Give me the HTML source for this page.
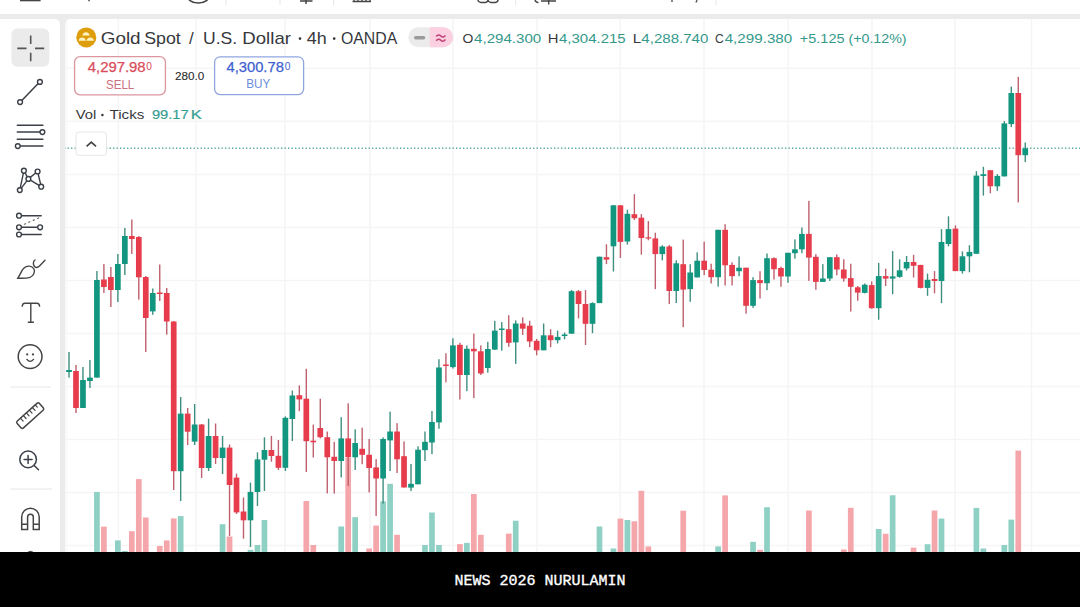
<!DOCTYPE html>
<html><head><meta charset="utf-8">
<style>
html,body{margin:0;padding:0;}
body{width:1080px;height:607px;overflow:hidden;position:relative;background:#ebebeb;font-family:"Liberation Sans",sans-serif;}
.abs{position:absolute;}
#top{left:0;top:0;width:1080px;height:14px;background:#fff;}
#left{left:0;top:19px;width:60px;height:533px;background:#fff;border-top-right-radius:5px;}
#chart{left:65px;top:19px;width:1015px;height:533px;background:linear-gradient(90deg,#f7f7f7 0,#fff 4px);border-top-left-radius:5px;}
#foot{left:0;top:552px;width:1080px;height:55px;background:#000;}
#foottxt{left:0;top:572px;width:1080px;text-align:center;color:#fff;font-family:"Liberation Mono",monospace;font-weight:normal;font-size:15px;line-height:20px;-webkit-text-stroke:0.35px #fff;}
svg.full{position:absolute;left:0;top:0;}
</style></head><body>
<div id="top" class="abs"></div>
<div id="left" class="abs"></div>
<div id="chart" class="abs"></div>
<svg class="full" width="1080" height="607" viewBox="0 0 1080 607">
<defs><clipPath id="cc"><rect x="65" y="19" width="1015" height="533" rx="5"/></clipPath></defs>
<g clip-path="url(#cc)">
<line x1="64" y1="68.3" x2="1080" y2="68.3" stroke="#f5f5f6" stroke-width="1.5"/>
<line x1="64" y1="121.3" x2="1080" y2="121.3" stroke="#f5f5f6" stroke-width="1.5"/>
<line x1="64" y1="174.4" x2="1080" y2="174.4" stroke="#f5f5f6" stroke-width="1.5"/>
<line x1="64" y1="227.4" x2="1080" y2="227.4" stroke="#f5f5f6" stroke-width="1.5"/>
<line x1="64" y1="280.4" x2="1080" y2="280.4" stroke="#f5f5f6" stroke-width="1.5"/>
<line x1="64" y1="333.4" x2="1080" y2="333.4" stroke="#f5f5f6" stroke-width="1.5"/>
<line x1="64" y1="386.5" x2="1080" y2="386.5" stroke="#f5f5f6" stroke-width="1.5"/>
<line x1="64" y1="439.5" x2="1080" y2="439.5" stroke="#f5f5f6" stroke-width="1.5"/>
<line x1="64" y1="492.5" x2="1080" y2="492.5" stroke="#f5f5f6" stroke-width="1.5"/>
<line x1="64" y1="545.6" x2="1080" y2="545.6" stroke="#f5f5f6" stroke-width="1.5"/>
<line x1="118.4" y1="19" x2="118.4" y2="552" stroke="#f5f5f6" stroke-width="1.5"/>
<line x1="196" y1="19" x2="196" y2="552" stroke="#f5f5f6" stroke-width="1.5"/>
<line x1="285" y1="19" x2="285" y2="552" stroke="#f5f5f6" stroke-width="1.5"/>
<line x1="370" y1="19" x2="370" y2="552" stroke="#f5f5f6" stroke-width="1.5"/>
<line x1="453" y1="19" x2="453" y2="552" stroke="#f5f5f6" stroke-width="1.5"/>
<line x1="537" y1="19" x2="537" y2="552" stroke="#f5f5f6" stroke-width="1.5"/>
<line x1="620.3" y1="19" x2="620.3" y2="552" stroke="#f5f5f6" stroke-width="1.5"/>
<line x1="704" y1="19" x2="704" y2="552" stroke="#f5f5f6" stroke-width="1.5"/>
<line x1="788.3" y1="19" x2="788.3" y2="552" stroke="#f5f5f6" stroke-width="1.5"/>
<line x1="872" y1="19" x2="872" y2="552" stroke="#f5f5f6" stroke-width="1.5"/>
<line x1="955" y1="19" x2="955" y2="552" stroke="#f5f5f6" stroke-width="1.5"/>
<line x1="1031.5" y1="19" x2="1031.5" y2="552" stroke="#f5f5f6" stroke-width="1.5"/>
<rect x="94.07" y="492.0" width="5.7" height="60.0" fill="#8fd0c5"/>
<rect x="101.05" y="526.6" width="5.7" height="25.4" fill="#f5a6ab"/>
<rect x="115.01" y="540.4" width="5.7" height="11.6" fill="#8fd0c5"/>
<rect x="121.99" y="551.0" width="5.7" height="1.0" fill="#8fd0c5"/>
<rect x="128.97" y="531.2" width="5.7" height="20.8" fill="#f5a6ab"/>
<rect x="135.95" y="479.1" width="5.7" height="72.9" fill="#f5a6ab"/>
<rect x="142.93" y="517.5" width="5.7" height="34.5" fill="#f5a6ab"/>
<rect x="156.89" y="546.0" width="5.7" height="6.0" fill="#f5a6ab"/>
<rect x="163.87" y="540.4" width="5.7" height="11.6" fill="#f5a6ab"/>
<rect x="170.85" y="518.4" width="5.7" height="33.6" fill="#f5a6ab"/>
<rect x="177.83" y="516.1" width="5.7" height="35.9" fill="#8fd0c5"/>
<rect x="219.71" y="524.2" width="5.7" height="27.8" fill="#8fd0c5"/>
<rect x="226.69" y="536.5" width="5.7" height="15.5" fill="#f5a6ab"/>
<rect x="247.63" y="549.9" width="5.7" height="2.1" fill="#8fd0c5"/>
<rect x="254.61" y="545.0" width="5.7" height="7.0" fill="#8fd0c5"/>
<rect x="261.59" y="520.0" width="5.7" height="32.0" fill="#8fd0c5"/>
<rect x="303.47" y="501.0" width="5.7" height="51.0" fill="#f5a6ab"/>
<rect x="310.45" y="545.0" width="5.7" height="7.0" fill="#f5a6ab"/>
<rect x="338.37" y="526.5" width="5.7" height="25.5" fill="#8fd0c5"/>
<rect x="345.35" y="457.9" width="5.7" height="94.1" fill="#f5a6ab"/>
<rect x="352.33" y="517.2" width="5.7" height="34.8" fill="#8fd0c5"/>
<rect x="366.29" y="548.5" width="5.7" height="3.5" fill="#f5a6ab"/>
<rect x="373.27" y="525.6" width="5.7" height="26.4" fill="#f5a6ab"/>
<rect x="380.25" y="501.4" width="5.7" height="50.6" fill="#8fd0c5"/>
<rect x="387.23" y="483.8" width="5.7" height="68.2" fill="#8fd0c5"/>
<rect x="394.21" y="534.8" width="5.7" height="17.2" fill="#f5a6ab"/>
<rect x="422.13" y="545.0" width="5.7" height="7.0" fill="#8fd0c5"/>
<rect x="429.11" y="512.5" width="5.7" height="39.5" fill="#8fd0c5"/>
<rect x="436.09" y="545.0" width="5.7" height="7.0" fill="#8fd0c5"/>
<rect x="457.03" y="544.1" width="5.7" height="7.9" fill="#f5a6ab"/>
<rect x="464.01" y="542.9" width="5.7" height="9.1" fill="#8fd0c5"/>
<rect x="470.99" y="494.0" width="5.7" height="58.0" fill="#f5a6ab"/>
<rect x="477.97" y="534.8" width="5.7" height="17.2" fill="#f5a6ab"/>
<rect x="505.89" y="533.6" width="5.7" height="18.4" fill="#f5a6ab"/>
<rect x="512.87" y="520.7" width="5.7" height="31.3" fill="#8fd0c5"/>
<rect x="596.63" y="526.5" width="5.7" height="25.5" fill="#8fd0c5"/>
<rect x="610.59" y="548.5" width="5.7" height="3.5" fill="#8fd0c5"/>
<rect x="617.57" y="518.6" width="5.7" height="33.4" fill="#f5a6ab"/>
<rect x="624.55" y="520.0" width="5.7" height="32.0" fill="#8fd0c5"/>
<rect x="631.53" y="521.3" width="5.7" height="30.7" fill="#f5a6ab"/>
<rect x="638.51" y="490.8" width="5.7" height="61.2" fill="#f5a6ab"/>
<rect x="645.49" y="546.4" width="5.7" height="5.6" fill="#f5a6ab"/>
<rect x="680.39" y="510.7" width="5.7" height="41.3" fill="#f5a6ab"/>
<rect x="715.29" y="546.4" width="5.7" height="5.6" fill="#8fd0c5"/>
<rect x="722.27" y="495.4" width="5.7" height="56.6" fill="#f5a6ab"/>
<rect x="750.19" y="541.8" width="5.7" height="10.2" fill="#8fd0c5"/>
<rect x="757.17" y="549.8" width="5.7" height="2.2" fill="#f5a6ab"/>
<rect x="764.15" y="507.2" width="5.7" height="44.8" fill="#8fd0c5"/>
<rect x="806.03" y="510.5" width="5.7" height="41.5" fill="#f5a6ab"/>
<rect x="840.93" y="549.5" width="5.7" height="2.5" fill="#f5a6ab"/>
<rect x="847.91" y="507.8" width="5.7" height="44.2" fill="#f5a6ab"/>
<rect x="875.83" y="529.0" width="5.7" height="23.0" fill="#8fd0c5"/>
<rect x="882.81" y="533.8" width="5.7" height="18.2" fill="#f5a6ab"/>
<rect x="889.79" y="495.3" width="5.7" height="56.7" fill="#8fd0c5"/>
<rect x="910.73" y="547.6" width="5.7" height="4.4" fill="#f5a6ab"/>
<rect x="924.69" y="544.2" width="5.7" height="7.8" fill="#8fd0c5"/>
<rect x="931.67" y="510.5" width="5.7" height="41.5" fill="#f5a6ab"/>
<rect x="938.65" y="518.6" width="5.7" height="33.4" fill="#8fd0c5"/>
<rect x="973.55" y="507.9" width="5.7" height="44.1" fill="#8fd0c5"/>
<rect x="980.53" y="548.5" width="5.7" height="3.5" fill="#8fd0c5"/>
<rect x="1001.47" y="545.0" width="5.7" height="7.0" fill="#8fd0c5"/>
<rect x="1008.45" y="519.6" width="5.7" height="32.4" fill="#8fd0c5"/>
<rect x="1015.43" y="450.6" width="5.7" height="101.4" fill="#f5a6ab"/>
<line x1="64" y1="148.3" x2="1080" y2="148.3" stroke="#5fada0" stroke-width="1.4" stroke-dasharray="1.4 2.1"/>
<rect x="68.30" y="352.0" width="1.4" height="25.6" fill="#3f8f80"/>
<rect x="66.15" y="370.0" width="5.7" height="2.0" fill="#13967f"/>
<rect x="75.28" y="365.0" width="1.4" height="48.0" fill="#c0606e"/>
<rect x="73.13" y="371.0" width="5.7" height="37.0" fill="#e73c4c"/>
<rect x="82.26" y="367.0" width="1.4" height="41.0" fill="#3f8f80"/>
<rect x="80.11" y="380.0" width="5.7" height="28.0" fill="#13967f"/>
<rect x="89.24" y="360.0" width="1.4" height="28.0" fill="#3f8f80"/>
<rect x="87.09" y="377.6" width="5.7" height="3.4" fill="#13967f"/>
<rect x="96.22" y="271.0" width="1.4" height="106.6" fill="#3f8f80"/>
<rect x="94.07" y="280.0" width="5.7" height="97.6" fill="#13967f"/>
<rect x="103.20" y="264.0" width="1.4" height="29.0" fill="#c0606e"/>
<rect x="101.05" y="279.5" width="5.7" height="7.5" fill="#e73c4c"/>
<rect x="110.18" y="267.0" width="1.4" height="40.0" fill="#c0606e"/>
<rect x="108.03" y="277.0" width="5.7" height="13.0" fill="#e73c4c"/>
<rect x="117.16" y="254.0" width="1.4" height="48.0" fill="#3f8f80"/>
<rect x="115.01" y="264.0" width="5.7" height="26.0" fill="#13967f"/>
<rect x="124.14" y="228.0" width="1.4" height="47.0" fill="#3f8f80"/>
<rect x="121.99" y="236.0" width="5.7" height="28.0" fill="#13967f"/>
<rect x="131.12" y="219.5" width="1.4" height="34.5" fill="#c0606e"/>
<rect x="128.97" y="236.0" width="5.7" height="3.0" fill="#e73c4c"/>
<rect x="138.10" y="236.0" width="1.4" height="63.6" fill="#c0606e"/>
<rect x="135.95" y="237.0" width="5.7" height="40.3" fill="#e73c4c"/>
<rect x="145.08" y="276.0" width="1.4" height="76.0" fill="#c0606e"/>
<rect x="142.93" y="277.0" width="5.7" height="41.0" fill="#e73c4c"/>
<rect x="152.06" y="288.5" width="1.4" height="26.3" fill="#3f8f80"/>
<rect x="149.91" y="293.0" width="5.7" height="18.4" fill="#13967f"/>
<rect x="159.04" y="264.5" width="1.4" height="36.5" fill="#c0606e"/>
<rect x="156.89" y="292.5" width="5.7" height="1.5" fill="#e73c4c"/>
<rect x="166.02" y="288.0" width="1.4" height="46.6" fill="#c0606e"/>
<rect x="163.87" y="293.0" width="5.7" height="28.5" fill="#e73c4c"/>
<rect x="173.00" y="321.0" width="1.4" height="169.0" fill="#c0606e"/>
<rect x="170.85" y="321.5" width="5.7" height="149.7" fill="#e73c4c"/>
<rect x="179.98" y="397.0" width="1.4" height="104.0" fill="#3f8f80"/>
<rect x="177.83" y="413.6" width="5.7" height="57.6" fill="#13967f"/>
<rect x="186.96" y="408.0" width="1.4" height="37.0" fill="#c0606e"/>
<rect x="184.81" y="413.6" width="5.7" height="18.1" fill="#e73c4c"/>
<rect x="193.94" y="404.0" width="1.4" height="41.0" fill="#3f8f80"/>
<rect x="191.79" y="424.5" width="5.7" height="17.1" fill="#13967f"/>
<rect x="200.92" y="424.0" width="1.4" height="54.0" fill="#c0606e"/>
<rect x="198.77" y="424.5" width="5.7" height="43.5" fill="#e73c4c"/>
<rect x="207.90" y="418.6" width="1.4" height="52.4" fill="#3f8f80"/>
<rect x="205.75" y="436.0" width="5.7" height="32.0" fill="#13967f"/>
<rect x="214.88" y="423.5" width="1.4" height="40.5" fill="#c0606e"/>
<rect x="212.73" y="436.0" width="5.7" height="22.0" fill="#e73c4c"/>
<rect x="221.86" y="436.0" width="1.4" height="38.0" fill="#3f8f80"/>
<rect x="219.71" y="447.6" width="5.7" height="10.4" fill="#13967f"/>
<rect x="228.84" y="444.5" width="1.4" height="91.5" fill="#c0606e"/>
<rect x="226.69" y="447.6" width="5.7" height="37.4" fill="#e73c4c"/>
<rect x="235.82" y="473.6" width="1.4" height="40.4" fill="#c0606e"/>
<rect x="233.67" y="477.6" width="5.7" height="34.8" fill="#e73c4c"/>
<rect x="242.80" y="497.5" width="1.4" height="41.2" fill="#c0606e"/>
<rect x="240.65" y="511.5" width="5.7" height="8.8" fill="#e73c4c"/>
<rect x="249.78" y="482.6" width="1.4" height="64.4" fill="#3f8f80"/>
<rect x="247.63" y="491.9" width="5.7" height="28.4" fill="#13967f"/>
<rect x="256.76" y="452.4" width="1.4" height="53.6" fill="#3f8f80"/>
<rect x="254.61" y="459.4" width="5.7" height="32.6" fill="#13967f"/>
<rect x="263.74" y="437.3" width="1.4" height="53.7" fill="#3f8f80"/>
<rect x="261.59" y="450.0" width="5.7" height="9.7" fill="#13967f"/>
<rect x="270.72" y="436.0" width="1.4" height="25.7" fill="#c0606e"/>
<rect x="268.57" y="450.0" width="5.7" height="6.0" fill="#e73c4c"/>
<rect x="277.70" y="440.0" width="1.4" height="30.0" fill="#c0606e"/>
<rect x="275.55" y="455.8" width="5.7" height="12.0" fill="#e73c4c"/>
<rect x="284.68" y="416.4" width="1.4" height="54.6" fill="#3f8f80"/>
<rect x="282.53" y="417.8" width="5.7" height="50.0" fill="#13967f"/>
<rect x="291.66" y="390.6" width="1.4" height="50.4" fill="#3f8f80"/>
<rect x="289.51" y="395.5" width="5.7" height="23.5" fill="#13967f"/>
<rect x="298.64" y="385.4" width="1.4" height="25.8" fill="#c0606e"/>
<rect x="296.49" y="395.2" width="5.7" height="4.2" fill="#e73c4c"/>
<rect x="305.62" y="368.8" width="1.4" height="103.2" fill="#c0606e"/>
<rect x="303.47" y="398.7" width="5.7" height="42.5" fill="#e73c4c"/>
<rect x="312.60" y="424.6" width="1.4" height="32.9" fill="#c0606e"/>
<rect x="310.45" y="440.7" width="5.7" height="1.6" fill="#e73c4c"/>
<rect x="319.58" y="398.7" width="1.4" height="39.7" fill="#c0606e"/>
<rect x="317.43" y="428.0" width="5.7" height="9.2" fill="#e73c4c"/>
<rect x="326.56" y="431.5" width="1.4" height="61.9" fill="#c0606e"/>
<rect x="324.41" y="437.2" width="5.7" height="20.1" fill="#e73c4c"/>
<rect x="333.54" y="441.8" width="1.4" height="51.8" fill="#c0606e"/>
<rect x="331.39" y="456.8" width="5.7" height="4.2" fill="#e73c4c"/>
<rect x="340.52" y="417.2" width="1.4" height="60.3" fill="#3f8f80"/>
<rect x="338.37" y="438.4" width="5.7" height="22.6" fill="#13967f"/>
<rect x="347.50" y="403.3" width="1.4" height="82.7" fill="#c0606e"/>
<rect x="345.35" y="438.4" width="5.7" height="18.9" fill="#e73c4c"/>
<rect x="354.48" y="429.3" width="1.4" height="40.7" fill="#3f8f80"/>
<rect x="352.33" y="443.0" width="5.7" height="14.3" fill="#13967f"/>
<rect x="361.46" y="427.7" width="1.4" height="36.5" fill="#c0606e"/>
<rect x="359.31" y="448.8" width="5.7" height="6.0" fill="#e73c4c"/>
<rect x="368.44" y="439.0" width="1.4" height="53.5" fill="#c0606e"/>
<rect x="366.29" y="454.8" width="5.7" height="13.2" fill="#e73c4c"/>
<rect x="375.42" y="459.1" width="1.4" height="56.9" fill="#c0606e"/>
<rect x="373.27" y="467.4" width="5.7" height="11.1" fill="#e73c4c"/>
<rect x="382.40" y="437.4" width="1.4" height="66.3" fill="#3f8f80"/>
<rect x="380.25" y="439.0" width="5.7" height="39.5" fill="#13967f"/>
<rect x="389.38" y="411.7" width="1.4" height="59.3" fill="#3f8f80"/>
<rect x="387.23" y="431.5" width="5.7" height="8.9" fill="#13967f"/>
<rect x="396.36" y="423.2" width="1.4" height="49.8" fill="#c0606e"/>
<rect x="394.21" y="431.5" width="5.7" height="27.8" fill="#e73c4c"/>
<rect x="403.34" y="441.4" width="1.4" height="46.1" fill="#c0606e"/>
<rect x="401.19" y="456.2" width="5.7" height="31.3" fill="#e73c4c"/>
<rect x="410.32" y="464.0" width="1.4" height="27.0" fill="#3f8f80"/>
<rect x="408.17" y="483.8" width="5.7" height="3.8" fill="#13967f"/>
<rect x="417.30" y="446.3" width="1.4" height="38.0" fill="#3f8f80"/>
<rect x="415.15" y="449.7" width="5.7" height="34.6" fill="#13967f"/>
<rect x="424.28" y="431.5" width="1.4" height="29.5" fill="#3f8f80"/>
<rect x="422.13" y="441.8" width="5.7" height="8.4" fill="#13967f"/>
<rect x="431.26" y="411.0" width="1.4" height="43.2" fill="#3f8f80"/>
<rect x="429.11" y="422.0" width="5.7" height="20.5" fill="#13967f"/>
<rect x="438.24" y="359.2" width="1.4" height="69.6" fill="#3f8f80"/>
<rect x="436.09" y="367.5" width="5.7" height="54.9" fill="#13967f"/>
<rect x="445.22" y="353.3" width="1.4" height="29.0" fill="#c0606e"/>
<rect x="443.07" y="364.5" width="5.7" height="1.5" fill="#e73c4c"/>
<rect x="452.20" y="338.3" width="1.4" height="30.2" fill="#3f8f80"/>
<rect x="450.05" y="345.4" width="5.7" height="21.7" fill="#13967f"/>
<rect x="459.18" y="342.8" width="1.4" height="56.7" fill="#c0606e"/>
<rect x="457.03" y="344.8" width="5.7" height="30.2" fill="#e73c4c"/>
<rect x="466.16" y="345.4" width="1.4" height="45.8" fill="#3f8f80"/>
<rect x="464.01" y="348.8" width="5.7" height="26.2" fill="#13967f"/>
<rect x="473.14" y="333.6" width="1.4" height="64.5" fill="#c0606e"/>
<rect x="470.99" y="348.8" width="5.7" height="2.5" fill="#e73c4c"/>
<rect x="480.12" y="345.4" width="1.4" height="29.6" fill="#c0606e"/>
<rect x="477.97" y="351.3" width="5.7" height="22.2" fill="#e73c4c"/>
<rect x="487.10" y="341.8" width="1.4" height="30.9" fill="#3f8f80"/>
<rect x="484.95" y="349.0" width="5.7" height="19.0" fill="#13967f"/>
<rect x="494.08" y="320.8" width="1.4" height="29.2" fill="#3f8f80"/>
<rect x="491.93" y="330.6" width="5.7" height="19.0" fill="#13967f"/>
<rect x="501.06" y="322.1" width="1.4" height="28.6" fill="#3f8f80"/>
<rect x="498.91" y="328.5" width="5.7" height="1.5" fill="#13967f"/>
<rect x="508.04" y="315.2" width="1.4" height="31.6" fill="#c0606e"/>
<rect x="505.89" y="329.2" width="5.7" height="13.6" fill="#e73c4c"/>
<rect x="515.02" y="320.4" width="1.4" height="43.5" fill="#3f8f80"/>
<rect x="512.87" y="323.5" width="5.7" height="18.9" fill="#13967f"/>
<rect x="522.00" y="317.4" width="1.4" height="17.5" fill="#c0606e"/>
<rect x="519.85" y="323.5" width="5.7" height="5.2" fill="#e73c4c"/>
<rect x="528.98" y="320.8" width="1.4" height="26.4" fill="#c0606e"/>
<rect x="526.83" y="325.7" width="5.7" height="15.8" fill="#e73c4c"/>
<rect x="535.96" y="338.9" width="1.4" height="16.4" fill="#c0606e"/>
<rect x="533.81" y="340.8" width="5.7" height="9.5" fill="#e73c4c"/>
<rect x="542.94" y="323.5" width="1.4" height="26.8" fill="#3f8f80"/>
<rect x="540.79" y="335.3" width="5.7" height="15.0" fill="#13967f"/>
<rect x="549.92" y="329.2" width="1.4" height="18.0" fill="#c0606e"/>
<rect x="547.77" y="335.3" width="5.7" height="4.9" fill="#e73c4c"/>
<rect x="556.90" y="330.6" width="1.4" height="12.9" fill="#3f8f80"/>
<rect x="554.75" y="336.9" width="5.7" height="3.3" fill="#13967f"/>
<rect x="563.88" y="332.5" width="1.4" height="6.8" fill="#3f8f80"/>
<rect x="561.73" y="334.5" width="5.7" height="1.5" fill="#13967f"/>
<rect x="570.86" y="290.0" width="1.4" height="43.7" fill="#3f8f80"/>
<rect x="568.71" y="291.2" width="5.7" height="42.5" fill="#13967f"/>
<rect x="577.84" y="290.0" width="1.4" height="28.4" fill="#c0606e"/>
<rect x="575.69" y="291.2" width="5.7" height="12.8" fill="#e73c4c"/>
<rect x="584.82" y="290.0" width="1.4" height="55.0" fill="#c0606e"/>
<rect x="582.67" y="304.0" width="5.7" height="19.8" fill="#e73c4c"/>
<rect x="591.80" y="302.3" width="1.4" height="30.9" fill="#3f8f80"/>
<rect x="589.65" y="303.1" width="5.7" height="20.7" fill="#13967f"/>
<rect x="598.78" y="256.7" width="1.4" height="46.4" fill="#3f8f80"/>
<rect x="596.63" y="256.7" width="5.7" height="46.4" fill="#13967f"/>
<rect x="605.76" y="244.3" width="1.4" height="19.8" fill="#c0606e"/>
<rect x="603.61" y="257.2" width="5.7" height="2.4" fill="#e73c4c"/>
<rect x="612.74" y="205.0" width="1.4" height="66.5" fill="#3f8f80"/>
<rect x="610.59" y="205.3" width="5.7" height="41.0" fill="#13967f"/>
<rect x="619.72" y="205.0" width="1.4" height="52.9" fill="#c0606e"/>
<rect x="617.57" y="205.3" width="5.7" height="36.6" fill="#e73c4c"/>
<rect x="626.70" y="209.7" width="1.4" height="34.9" fill="#3f8f80"/>
<rect x="624.55" y="213.8" width="5.7" height="27.7" fill="#13967f"/>
<rect x="633.68" y="194.2" width="1.4" height="25.8" fill="#c0606e"/>
<rect x="631.53" y="214.2" width="5.7" height="4.0" fill="#e73c4c"/>
<rect x="640.66" y="214.2" width="1.4" height="40.4" fill="#c0606e"/>
<rect x="638.51" y="217.7" width="5.7" height="20.3" fill="#e73c4c"/>
<rect x="647.64" y="221.1" width="1.4" height="19.2" fill="#c0606e"/>
<rect x="645.49" y="237.3" width="5.7" height="1.2" fill="#e73c4c"/>
<rect x="654.62" y="232.7" width="1.4" height="56.4" fill="#c0606e"/>
<rect x="652.47" y="238.4" width="5.7" height="15.7" fill="#e73c4c"/>
<rect x="661.60" y="245.3" width="1.4" height="15.0" fill="#3f8f80"/>
<rect x="659.45" y="246.5" width="5.7" height="7.6" fill="#13967f"/>
<rect x="668.58" y="245.0" width="1.4" height="59.1" fill="#c0606e"/>
<rect x="666.43" y="246.5" width="5.7" height="44.5" fill="#e73c4c"/>
<rect x="675.56" y="260.3" width="1.4" height="42.7" fill="#3f8f80"/>
<rect x="673.41" y="263.3" width="5.7" height="27.7" fill="#13967f"/>
<rect x="682.54" y="239.6" width="1.4" height="87.6" fill="#c0606e"/>
<rect x="680.39" y="264.2" width="5.7" height="25.4" fill="#e73c4c"/>
<rect x="689.52" y="264.2" width="1.4" height="37.6" fill="#3f8f80"/>
<rect x="687.37" y="272.5" width="5.7" height="16.6" fill="#13967f"/>
<rect x="696.50" y="252.3" width="1.4" height="25.1" fill="#3f8f80"/>
<rect x="694.35" y="260.7" width="5.7" height="16.7" fill="#13967f"/>
<rect x="703.48" y="241.7" width="1.4" height="33.5" fill="#c0606e"/>
<rect x="701.33" y="260.7" width="5.7" height="9.3" fill="#e73c4c"/>
<rect x="710.46" y="263.7" width="1.4" height="19.8" fill="#c0606e"/>
<rect x="708.31" y="269.7" width="5.7" height="7.5" fill="#e73c4c"/>
<rect x="717.44" y="229.8" width="1.4" height="56.8" fill="#3f8f80"/>
<rect x="715.29" y="229.8" width="5.7" height="47.4" fill="#13967f"/>
<rect x="724.42" y="224.2" width="1.4" height="61.3" fill="#c0606e"/>
<rect x="722.27" y="229.8" width="5.7" height="35.5" fill="#e73c4c"/>
<rect x="731.40" y="262.3" width="1.4" height="23.2" fill="#c0606e"/>
<rect x="729.25" y="264.9" width="5.7" height="11.3" fill="#e73c4c"/>
<rect x="738.38" y="256.4" width="1.4" height="19.8" fill="#3f8f80"/>
<rect x="736.23" y="267.7" width="5.7" height="3.5" fill="#13967f"/>
<rect x="745.36" y="267.7" width="1.4" height="46.0" fill="#c0606e"/>
<rect x="743.21" y="267.7" width="5.7" height="38.1" fill="#e73c4c"/>
<rect x="752.34" y="277.2" width="1.4" height="30.6" fill="#3f8f80"/>
<rect x="750.19" y="280.1" width="5.7" height="25.7" fill="#13967f"/>
<rect x="759.32" y="271.2" width="1.4" height="27.3" fill="#c0606e"/>
<rect x="757.17" y="280.1" width="5.7" height="3.0" fill="#e73c4c"/>
<rect x="766.30" y="253.5" width="1.4" height="36.7" fill="#3f8f80"/>
<rect x="764.15" y="258.2" width="5.7" height="25.0" fill="#13967f"/>
<rect x="773.28" y="257.3" width="1.4" height="22.2" fill="#c0606e"/>
<rect x="771.13" y="258.2" width="5.7" height="11.0" fill="#e73c4c"/>
<rect x="780.26" y="266.6" width="1.4" height="20.2" fill="#c0606e"/>
<rect x="778.11" y="268.0" width="5.7" height="8.5" fill="#e73c4c"/>
<rect x="787.24" y="252.8" width="1.4" height="30.0" fill="#3f8f80"/>
<rect x="785.09" y="252.8" width="5.7" height="23.7" fill="#13967f"/>
<rect x="794.22" y="239.4" width="1.4" height="19.3" fill="#3f8f80"/>
<rect x="792.07" y="249.3" width="5.7" height="3.9" fill="#13967f"/>
<rect x="801.20" y="227.5" width="1.4" height="25.7" fill="#3f8f80"/>
<rect x="799.05" y="233.9" width="5.7" height="15.4" fill="#13967f"/>
<rect x="808.18" y="200.9" width="1.4" height="80.0" fill="#c0606e"/>
<rect x="806.03" y="233.9" width="5.7" height="23.7" fill="#e73c4c"/>
<rect x="815.16" y="254.2" width="1.4" height="35.6" fill="#c0606e"/>
<rect x="813.01" y="256.8" width="5.7" height="25.1" fill="#e73c4c"/>
<rect x="822.14" y="264.1" width="1.4" height="17.8" fill="#3f8f80"/>
<rect x="819.99" y="278.5" width="5.7" height="3.4" fill="#13967f"/>
<rect x="829.12" y="257.2" width="1.4" height="23.7" fill="#3f8f80"/>
<rect x="826.97" y="257.2" width="5.7" height="21.3" fill="#13967f"/>
<rect x="836.10" y="254.5" width="1.4" height="20.8" fill="#c0606e"/>
<rect x="833.95" y="257.2" width="5.7" height="12.3" fill="#e73c4c"/>
<rect x="843.08" y="259.2" width="1.4" height="22.4" fill="#c0606e"/>
<rect x="840.93" y="269.5" width="5.7" height="9.0" fill="#e73c4c"/>
<rect x="850.06" y="263.7" width="1.4" height="47.8" fill="#c0606e"/>
<rect x="847.91" y="278.1" width="5.7" height="8.7" fill="#e73c4c"/>
<rect x="857.04" y="286.0" width="1.4" height="14.8" fill="#c0606e"/>
<rect x="854.89" y="287.3" width="5.7" height="5.3" fill="#e73c4c"/>
<rect x="864.02" y="283.5" width="1.4" height="9.9" fill="#3f8f80"/>
<rect x="861.87" y="284.7" width="5.7" height="8.2" fill="#13967f"/>
<rect x="871.00" y="281.4" width="1.4" height="27.3" fill="#c0606e"/>
<rect x="868.85" y="285.1" width="5.7" height="23.1" fill="#e73c4c"/>
<rect x="877.98" y="262.9" width="1.4" height="56.8" fill="#3f8f80"/>
<rect x="875.83" y="276.1" width="5.7" height="32.1" fill="#13967f"/>
<rect x="884.96" y="268.7" width="1.4" height="17.3" fill="#c0606e"/>
<rect x="882.81" y="276.1" width="5.7" height="2.5" fill="#e73c4c"/>
<rect x="891.94" y="251.1" width="1.4" height="43.1" fill="#3f8f80"/>
<rect x="889.79" y="276.4" width="5.7" height="2.2" fill="#13967f"/>
<rect x="898.92" y="259.3" width="1.4" height="18.4" fill="#3f8f80"/>
<rect x="896.77" y="270.3" width="5.7" height="6.6" fill="#13967f"/>
<rect x="905.90" y="256.0" width="1.4" height="14.5" fill="#3f8f80"/>
<rect x="903.75" y="262.0" width="5.7" height="6.4" fill="#13967f"/>
<rect x="912.88" y="254.8" width="1.4" height="22.7" fill="#c0606e"/>
<rect x="910.73" y="262.0" width="5.7" height="3.8" fill="#e73c4c"/>
<rect x="919.86" y="264.9" width="1.4" height="23.5" fill="#c0606e"/>
<rect x="917.71" y="264.9" width="5.7" height="23.0" fill="#e73c4c"/>
<rect x="926.84" y="273.6" width="1.4" height="22.2" fill="#3f8f80"/>
<rect x="924.69" y="279.8" width="5.7" height="8.1" fill="#13967f"/>
<rect x="933.82" y="271.1" width="1.4" height="22.2" fill="#c0606e"/>
<rect x="931.67" y="279.0" width="5.7" height="2.0" fill="#e73c4c"/>
<rect x="940.80" y="229.1" width="1.4" height="74.1" fill="#3f8f80"/>
<rect x="938.65" y="242.0" width="5.7" height="39.0" fill="#13967f"/>
<rect x="947.78" y="216.3" width="1.4" height="30.1" fill="#3f8f80"/>
<rect x="945.63" y="229.1" width="5.7" height="14.9" fill="#13967f"/>
<rect x="954.76" y="225.4" width="1.4" height="45.7" fill="#c0606e"/>
<rect x="952.61" y="228.6" width="5.7" height="42.5" fill="#e73c4c"/>
<rect x="961.74" y="251.4" width="1.4" height="22.2" fill="#3f8f80"/>
<rect x="959.59" y="256.3" width="5.7" height="14.8" fill="#13967f"/>
<rect x="968.72" y="245.2" width="1.4" height="27.1" fill="#3f8f80"/>
<rect x="966.57" y="251.9" width="5.7" height="4.4" fill="#13967f"/>
<rect x="975.70" y="171.2" width="1.4" height="82.6" fill="#3f8f80"/>
<rect x="973.55" y="175.6" width="5.7" height="78.2" fill="#13967f"/>
<rect x="982.68" y="166.8" width="1.4" height="28.8" fill="#3f8f80"/>
<rect x="980.53" y="174.2" width="5.7" height="1.8" fill="#13967f"/>
<rect x="989.66" y="170.2" width="1.4" height="23.0" fill="#c0606e"/>
<rect x="987.51" y="170.2" width="5.7" height="16.1" fill="#e73c4c"/>
<rect x="996.64" y="174.1" width="1.4" height="16.8" fill="#3f8f80"/>
<rect x="994.49" y="175.9" width="5.7" height="10.4" fill="#13967f"/>
<rect x="1003.62" y="121.1" width="1.4" height="55.3" fill="#3f8f80"/>
<rect x="1001.47" y="123.4" width="5.7" height="53.0" fill="#13967f"/>
<rect x="1010.60" y="86.6" width="1.4" height="40.5" fill="#3f8f80"/>
<rect x="1008.45" y="93.0" width="5.7" height="31.1" fill="#13967f"/>
<rect x="1017.58" y="76.9" width="1.4" height="125.5" fill="#c0606e"/>
<rect x="1015.43" y="93.0" width="5.7" height="62.2" fill="#e73c4c"/>
<rect x="1024.56" y="142.5" width="1.4" height="19.6" fill="#3f8f80"/>
<rect x="1022.41" y="148.3" width="5.7" height="6.9" fill="#13967f"/>
</g>
<g fill="none" stroke="#3b3f48" stroke-width="1.6" stroke-linecap="round">
<!-- crosshair button -->
<rect x="11.4" y="28.5" width="37.9" height="38.3" rx="6" fill="#ebebeb" stroke="none"/>
<path d="M30.7 35.6 V44 M30.7 52.8 V61.3 M17.3 48.4 H26.5 M35 48.4 H44.2" stroke="#555" stroke-width="1.6" stroke-linecap="butt"/>
<!-- trend line -->
<path d="M21.8 100.4 L38.2 83.6" stroke-width="1.5"/>
<circle cx="20.1" cy="102.1" r="2.4" fill="#fff" stroke-width="1.4"/>
<circle cx="39.9" cy="81.9" r="2.4" fill="#fff" stroke-width="1.4"/>
<!-- parallel lines -->
<path d="M17.3 125.2 H42.9 M17.3 132.1 H40 M17.3 139.2 H42.9 M20.2 146.1 H42.9" stroke-width="1.5"/>
<circle cx="42.4" cy="132.1" r="2.4" fill="#fff" stroke-width="1.4"/>
<circle cx="17.8" cy="146.1" r="2.4" fill="#fff" stroke-width="1.4"/>
<!-- pattern -->
<path d="M19.8 190.1 L23.9 170.7 L28.4 178.9 L37.6 171.5 L41.2 186.7 L28.4 178.9 L19.8 190.1" stroke-width="1.4"/>
<circle cx="23.9" cy="170.7" r="2.4" fill="#fff" stroke-width="1.4"/>
<circle cx="37.6" cy="171.5" r="2.4" fill="#fff" stroke-width="1.4"/>
<circle cx="28.4" cy="178.9" r="2.4" fill="#fff" stroke-width="1.4"/>
<circle cx="41.2" cy="186.7" r="2.4" fill="#fff" stroke-width="1.4"/>
<circle cx="19.8" cy="190.1" r="2.4" fill="#fff" stroke-width="1.4"/>
<!-- forecast -->
<path d="M21.4 215.7 H41.2 M21.4 227.3 H37.7 M21.4 234.5 H41.2" stroke-width="1.5"/>
<path d="M24.4 224.2 L39.5 217.6" stroke-width="1.2" stroke-dasharray="1.2 3.6" stroke="#666"/>
<circle cx="19" cy="215.7" r="2.4" fill="#fff" stroke-width="1.4"/>
<circle cx="19" cy="227.3" r="2.4" fill="#fff" stroke-width="1.4"/>
<circle cx="40.1" cy="227.3" r="2.4" fill="#fff" stroke-width="1.4"/>
<circle cx="19" cy="234.5" r="2.4" fill="#fff" stroke-width="1.4"/>
<!-- brush -->
<path d="M17.8 278.2 C20.5 274 21.8 270 24 268 C27 265.3 32 265.5 34 269 C35.5 272 33.5 276 30 277.3 C26 278.6 21 278.3 17.8 278.2 Z" stroke-width="1.4" stroke="#444"/>
<path d="M35 260 C33 261.5 32.8 264.5 34.5 266.5 C36 268 38 267.5 39.5 266 L45 260.3" stroke-width="1.4" stroke="#444"/>
<!-- T -->
<path d="M22.2 306.8 Q22.2 303.2 25 303.2 H36.8 Q39.6 303.2 39.6 306.8 M30.8 303.2 V322.3 M27.8 322.3 H33.9" stroke-width="1.4" stroke-linecap="butt" stroke="#444"/>
<!-- smiley -->
<circle cx="30.1" cy="356.6" r="11.9" stroke-width="1.5" stroke="#444"/>
<circle cx="27.2" cy="354.4" r="1.1" fill="#444" stroke="none"/>
<circle cx="33" cy="354.4" r="1.1" fill="#444" stroke="none"/>
<path d="M26.9 359.4 Q30.1 363.4 33.5 359.4" stroke-width="1.4" stroke="#444"/>
<!-- separators -->
<path d="M10.5 387 H50.5 M10.5 489 H51.5" stroke="#e6e6e6" stroke-width="1"/>
<!-- ruler -->
<g transform="translate(30.2 415.6) rotate(-42)">
<rect x="-15" y="-4.6" width="30" height="9.2" rx="1.8" stroke-width="1.5" stroke="#444"/>
<path d="M-9 -4.6 V-0.6 M-5 -4.6 V-0.6 M-1 -4.6 V-0.6 M3 -4.6 V-0.6 M7 -4.6 V-0.6 M11 -4.6 V-1.6" stroke-width="1.2" stroke="#444"/>
</g>
<!-- zoom -->
<circle cx="28.1" cy="459.4" r="8.3" stroke-width="1.5"/>
<path d="M34.2 465.5 L38.5 469.8 M28.1 455.4 V463.4 M24.1 459.4 H32.1" stroke-width="1.5"/>
<!-- magnet -->
<path d="M21.7 529.4 V517 A8.75 8.75 0 0 1 39.2 517 V529.4 H33.3 V517 A2.85 2.85 0 0 0 27.6 517 V529.4 Z M21.7 524.2 H27.6 M33.3 524.2 H39.2" stroke-width="1.5" stroke="#444"/>
<!-- bottom partial -->
<path d="M27.5 553 Q30.5 549.8 33.5 553" stroke-width="1.4" stroke="#555"/>
</g>
<!-- top strip fragments -->
<g fill="none" stroke="#444" stroke-width="1.6">
<path d="M20 0.3 H40.6" stroke-width="2"/>
<path d="M89 0 V1.2" stroke-width="1.5"/>
<path d="M189 0 A15.8 15.8 0 0 0 207.5 0" stroke-width="1.6"/>
<path d="M300 1 H312.5 M306 0 V4" stroke-width="1.5"/>
<path d="M352.5 1.5 H371 M354 0 V2 M358 0 V2 M362 0 V2 M366 0 V2 M370 0 V2" stroke-width="1.3"/>
<path d="M478 0 A4.8 2.5 0 0 0 488 0 M488 0 A4.8 2.5 0 0 0 498 0" stroke-width="1.5"/>
<path d="M535 0 Q535.5 2.2 538.5 2.6 M548.7 0 V4.6 M541 1 H556" stroke-width="1.4"/>
<path d="M672 0 V2 M697 0 L696 2.6" stroke="#555" stroke-width="1.4"/>
</g>
<path d="M226 0 V5 M280 0 V5 M333.7 0 V5 M515.7 0 V5 M716 0 V5" stroke="#e5e5e5" stroke-width="1"/>

<!-- gold icon -->
<circle cx="86.3" cy="37.4" r="10" fill="#de9e0c"/>
<path d="M82.2 35.6 Q83.2 32.2 86 32.2 Q88.8 32.2 89.8 35.6 Z" fill="#fff3c4"/>
<path d="M78.4 40.8 Q79.4 37.4 82.2 37.4 Q85 37.4 86 40.8 Z" fill="#fff3c4"/>
<path d="M86.4 40.8 Q87.4 37.4 90.2 37.4 Q93 37.4 94 40.8 Z" fill="#fff3c4"/>
<!-- pill -->
<rect x="408.3" y="27.3" width="44.8" height="20" rx="10" fill="#ebebeb"/>
<path d="M429.8 27.3 H443.1 A10 10 0 0 1 443.1 47.3 H429.8 Z" fill="#fbd0e0"/>
<rect x="414" y="35.9" width="11.3" height="3.6" rx="1.8" fill="#9a9a9a"/>
<path d="M436.2 36.6 C437.8 34.6 439.4 34.6 440.8 36 C442.2 37.4 443.8 37.4 445.4 35.4 M436.2 40.8 C437.8 38.8 439.4 38.8 440.8 40.2 C442.2 41.6 443.8 41.6 445.4 39.6" fill="none" stroke="#c0407a" stroke-width="1.6"/>
<!-- sell/buy boxes -->
<rect x="74.6" y="56.6" width="90.8" height="38.2" rx="5.5" fill="#fff" stroke="#dc96a0" stroke-width="1.3"/>
<rect x="214.6" y="56.8" width="89" height="37.8" rx="5.5" fill="#fff" stroke="#8ea6e0" stroke-width="1.3"/>
<!-- collapse button -->
<rect x="76" y="132" width="30.5" height="23.3" rx="3" fill="#fff" stroke="#e6e6e6" stroke-width="1"/>
<path d="M86.6 146.3 L91.3 142.1 L96 146.3" fill="none" stroke="#444" stroke-width="1.7"/>
<text x="100.75" y="44.30" font-family="Liberation Sans" font-size="17" font-weight="normal" fill="#36383c" textLength="39.87" lengthAdjust="spacingAndGlyphs" >Gold</text>
<text x="144.19" y="44.30" font-family="Liberation Sans" font-size="17" font-weight="normal" fill="#36383c" textLength="36.54" lengthAdjust="spacingAndGlyphs" >Spot</text>
<text x="203.04" y="44.30" font-family="Liberation Sans" font-size="17" font-weight="normal" fill="#36383c" textLength="34.16" lengthAdjust="spacingAndGlyphs" >U.S.</text>
<text x="242.38" y="44.30" font-family="Liberation Sans" font-size="17" font-weight="normal" fill="#36383c" textLength="48.53" lengthAdjust="spacingAndGlyphs" >Dollar</text>
<text x="306.79" y="44.30" font-family="Liberation Sans" font-size="17" font-weight="normal" fill="#36383c" textLength="19.98" lengthAdjust="spacingAndGlyphs" >4h</text>
<text x="340.95" y="44.30" font-family="Liberation Sans" font-size="17" font-weight="normal" fill="#36383c" textLength="56.28" lengthAdjust="spacingAndGlyphs" >OANDA</text>
<text x="189" y="44.3" font-family="Liberation Sans" font-size="17" fill="#36383c">/</text>
<circle cx="300" cy="38.6" r="1.3" fill="#2f3238"/><circle cx="334.2" cy="38.6" r="1.3" fill="#2f3238"/>
<text x="462.64" y="43.00" font-family="Liberation Sans" font-size="13.7" font-weight="normal" fill="#3a3a3d" textLength="10.83" lengthAdjust="spacingAndGlyphs" >O</text>
<text x="474.05" y="43.00" font-family="Liberation Sans" font-size="13.7" font-weight="normal" fill="#33998a" textLength="67.14" lengthAdjust="spacingAndGlyphs" >4,294.300</text>
<text x="547.68" y="43.00" font-family="Liberation Sans" font-size="13.7" font-weight="normal" fill="#3a3a3d" textLength="10.73" lengthAdjust="spacingAndGlyphs" >H</text>
<text x="559.06" y="43.00" font-family="Liberation Sans" font-size="13.7" font-weight="normal" fill="#33998a" textLength="66.57" lengthAdjust="spacingAndGlyphs" >4,304.215</text>
<text x="632.65" y="43.00" font-family="Liberation Sans" font-size="13.7" font-weight="normal" fill="#3a3a3d" textLength="8.45" lengthAdjust="spacingAndGlyphs" >L</text>
<text x="641.35" y="43.00" font-family="Liberation Sans" font-size="13.7" font-weight="normal" fill="#33998a" textLength="67.03" lengthAdjust="spacingAndGlyphs" >4,288.740</text>
<text x="714.98" y="43.00" font-family="Liberation Sans" font-size="13.7" font-weight="normal" fill="#3a3a3d" textLength="8.78" lengthAdjust="spacingAndGlyphs" >C</text>
<text x="724.65" y="43.00" font-family="Liberation Sans" font-size="13.7" font-weight="normal" fill="#33998a" textLength="67.64" lengthAdjust="spacingAndGlyphs" >4,299.380</text>
<text x="799.89" y="43.00" font-family="Liberation Sans" font-size="13.7" font-weight="normal" fill="#33998a" textLength="44.61" lengthAdjust="spacingAndGlyphs" >+5.125</text>
<text x="848.52" y="43.00" font-family="Liberation Sans" font-size="13.7" font-weight="normal" fill="#33998a" textLength="57.96" lengthAdjust="spacingAndGlyphs" >(+0.12%)</text>
<text x="87.76" y="72.10" font-family="Liberation Sans" font-size="14" font-weight="normal" fill="#d94d5c" textLength="57.89" lengthAdjust="spacingAndGlyphs" stroke="#d94d5c" stroke-width="0.25">4,297.98</text>
<text x="146.2" y="69.6" font-family="Liberation Sans" font-size="10.2" fill="#d94d5c">0</text>
<text x="106.08" y="88.70" font-family="Liberation Sans" font-size="12.6" font-weight="normal" fill="#c8707b" textLength="28.21" lengthAdjust="spacingAndGlyphs" >SELL</text>
<text x="175.11" y="79.50" font-family="Liberation Sans" font-size="11.2" font-weight="normal" fill="#2a2a2a" textLength="29.24" lengthAdjust="spacingAndGlyphs" stroke="#2a2a2a" stroke-width="0.1">280.0</text>
<text x="226.46" y="72.10" font-family="Liberation Sans" font-size="14" font-weight="normal" fill="#3f5fcf" textLength="57.38" lengthAdjust="spacingAndGlyphs" stroke="#3f5fcf" stroke-width="0.25">4,300.78</text>
<text x="284.8" y="69.6" font-family="Liberation Sans" font-size="10.2" fill="#3f5fcf">0</text>
<text x="246.24" y="88.20" font-family="Liberation Sans" font-size="12.6" font-weight="normal" fill="#6d8ddb" textLength="24.01" lengthAdjust="spacingAndGlyphs" >BUY</text>
<text x="75.74" y="119.40" font-family="Liberation Sans" font-size="13.3" font-weight="normal" fill="#36383c" textLength="20.51" lengthAdjust="spacingAndGlyphs" >Vol</text>
<circle cx="102.4" cy="115" r="1.2" fill="#2f3238"/>
<text x="109.46" y="119.40" font-family="Liberation Sans" font-size="13.3" font-weight="normal" fill="#36383c" textLength="34.88" lengthAdjust="spacingAndGlyphs" >Ticks</text>
<text x="151.91" y="119.40" font-family="Liberation Sans" font-size="13.3" font-weight="normal" fill="#35a091" textLength="36.73" lengthAdjust="spacingAndGlyphs" stroke="#35a091" stroke-width="0.2">99.17</text>
<text x="190.84" y="119.40" font-family="Liberation Sans" font-size="13.3" font-weight="normal" fill="#35a091" textLength="11.04" lengthAdjust="spacingAndGlyphs" stroke="#35a091" stroke-width="0.2">K</text>
</svg>
<div id="foot" class="abs"></div>
<div id="foottxt" class="abs">NEWS 2026 NURULAMIN</div>
</body></html>
